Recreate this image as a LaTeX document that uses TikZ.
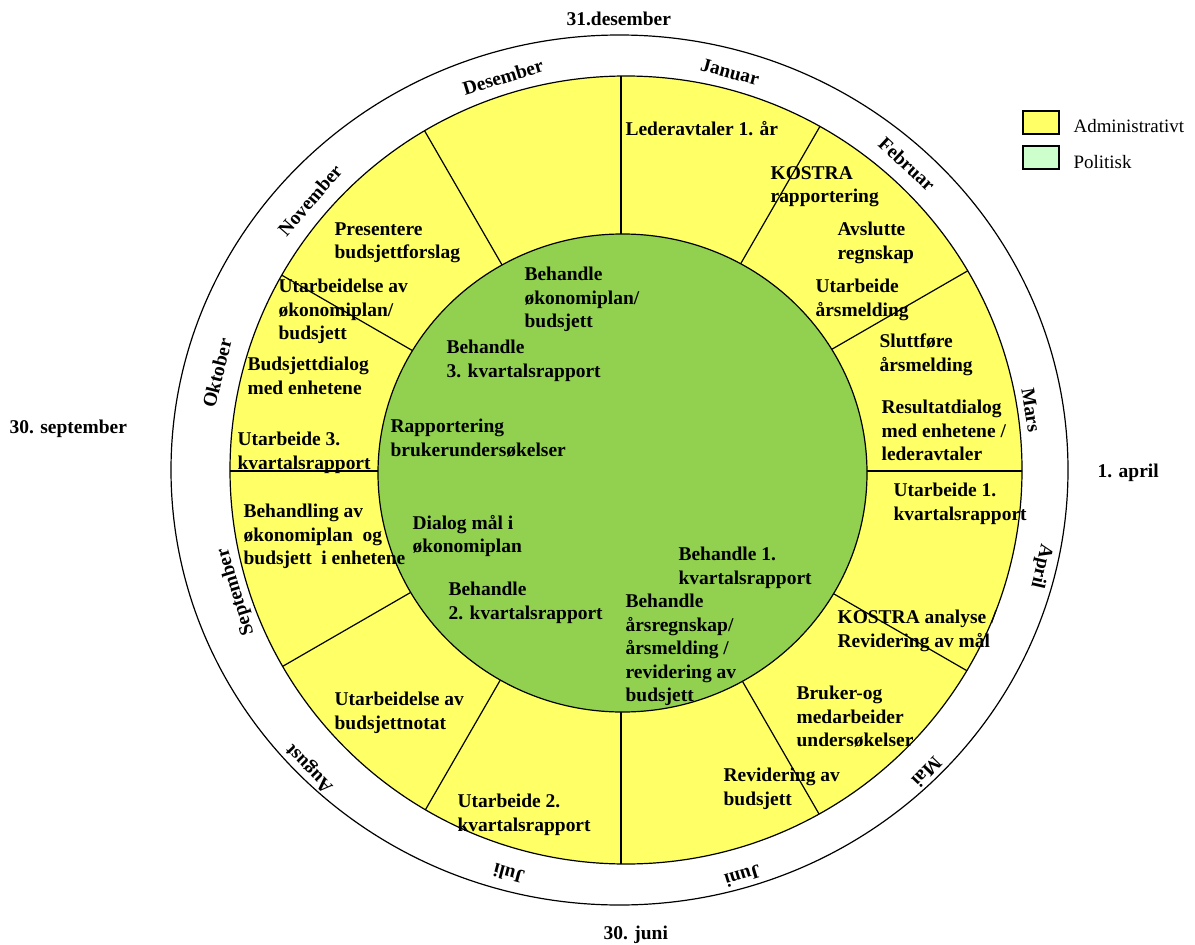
\documentclass[tikz,border=0pt]{standalone}
\usepackage{fontspec}
\setmainfont{Liberation Serif}
\definecolor{admyellow}{RGB}{255,255,102}
\definecolor{polgreen}{RGB}{146,208,80}
\definecolor{legendgreen}{RGB}{204,255,204}
\tikzset{every picture/.style={line width=0.9pt}}
\tikzset{
  task/.style={font=\bfseries\fontsize{14.6}{17.6}\selectfont, align=left, anchor=north west, yshift=10pt, inner sep=0pt},
  month/.style={font=\bfseries\fontsize{14.6}{17.6}\selectfont, inner sep=0pt},
  datelabel/.style={font=\bfseries\fontsize{14.6}{17.6}\selectfont, anchor=base west, inner sep=0pt},
  legendtext/.style={font=\fontsize{14.2}{17}\selectfont, anchor=base west, inner sep=0pt},
  legendbox/.style={draw, line width=1pt}
}
\begin{document}
\begin{tikzpicture}[x=0.75pt,y=0.75pt,yscale=-1,xscale=1]
\useasboundingbox (0,0) rectangle (1195,945);
\coordinate (c) at (621,471);

%Shape: Ellipse [outer ring]
\draw (619.5,470) ellipse [x radius=448.5, y radius=435];
%Shape: Ellipse [administrativt]
\draw [fill=admyellow] (626,470) ellipse [x radius=396, y radius=394];
%Straight Lines [month dividers]
\begin{scope}
\clip (626,470) ellipse [x radius=396, y radius=394];
\foreach \a in {0,30,...,330}
  \draw (c) -- ++(\a:460);
\end{scope}
%Shape: Ellipse [politisk]
\draw [fill=polgreen] (622.5,473) ellipse [x radius=244.5, y radius=239];

% Month labels
\node[month, rotate=-15] (jan) at (730,72) {Januar};
\node[month, rotate=-43] (feb) at (907,164) {Februar};
\node[month, rotate=-81] (mar) at (1031,410) {Mars};
\node[month, rotate=-103] (apr) at (1041,566) {April};
\node[month, rotate=-134] (mai) at (927,772) {Mai};
\node[month, rotate=-163] (jun) at (743,876) {Juni};
\node[month, rotate=165] (jul) at (509,874) {Juli};
\node[month, rotate=134] (aug) at (310,768) {August};
\node[month, rotate=107] (sep) at (236,592) {September};
\node[month, rotate=76] (okt) at (217,373) {Oktober};
\node[month, rotate=49] (nov) at (310,200) {November};
\node[month, rotate=17] (des) at (503,77) {Desember};

% Date labels
\node[datelabel] (d1231) at (566,26) {31.desember};
\node[datelabel] (d0930) at (9,433) {30. september};
\node[datelabel] (d0401) at (1097,477) {1. april};
\node[datelabel] (d0630) at (603,939) {30. juni};

% Text Node
\node[task] (lederavtaler) at (625,134) {Lederavtaler 1. år};
\node[task] (kostra) at (770,179) {KOSTRA\\rapportering};
\node[task] (avslutte) at (837,235) {Avslutte\\regnskap};
\node[task] (aarsmelding) at (815,292) {Utarbeide\\årsmelding};
\node[task] (sluttfore) at (879,347) {Sluttføre\\årsmelding};
\node[task] (resultat) at (881,413) {Resultatdialog\\med enhetene /\\lederavtaler};
\node[task] (kvartal1) at (893,496) {Utarbeide 1.\\kvartalsrapport};
\node[task] (kostraanalyse) at (837,623) {KOSTRA analyse /\\Revidering av mål};
\node[task] (undersokelser) at (796,699) {Bruker-og\\medarbeider\\undersøkelser};
\node[task] (revbudsjett) at (723,781) {Revidering av\\budsjett};
\node[task] (beh1) at (678,560) {Behandle 1.\\kvartalsrapport};
\node[task] (behregnskap) at (625,607) {Behandle\\årsregnskap/\\årsmelding /\\revidering av\\budsjett};
\node[task] (kvartal2) at (457,807) {Utarbeide 2.\\kvartalsrapport};
\node[task] (notat) at (334,705) {Utarbeidelse av\\budsjettnotat};
\node[task] (beh2) at (448,595) {Behandle\\2. kvartalsrapport};
\node[task] (dialogmal) at (412,528) {Dialog mål i\\økonomiplan};
\node[task] (behenheter) at (243,517) {Behandling av\\økonomiplan\ \ og\\budsjett\ \ i enhetene};
\node[task] (kvartal3) at (237,445) {Utarbeide 3.\\kvartalsrapport};
\node[task] (rapportering) at (390,432) {Rapportering\\brukerundersøkelser};
\node[task] (budsjettdialog) at (247,370) {Budsjettdialog\\med enhetene};
\node[task] (beh3) at (446,353) {Behandle\\3. kvartalsrapport};
\node[task] (utarbokplan) at (278,292) {Utarbeidelse av\\økonomiplan/\\budsjett};
\node[task] (behokplan) at (524,280) {Behandle\\økonomiplan/\\budsjett};
\node[task] (presentere) at (334,235) {Presentere\\budsjettforslag};

% Legend
\draw[legendbox, fill=admyellow] (1023,111) rectangle (1059,134);
\draw[legendbox, fill=legendgreen] (1023,146) rectangle (1059,169);
\node[legendtext] (admin) at (1073,133) {Administrativt};
\node[legendtext] (polit) at (1073,169) {Politisk};

\end{tikzpicture}
\end{document}
